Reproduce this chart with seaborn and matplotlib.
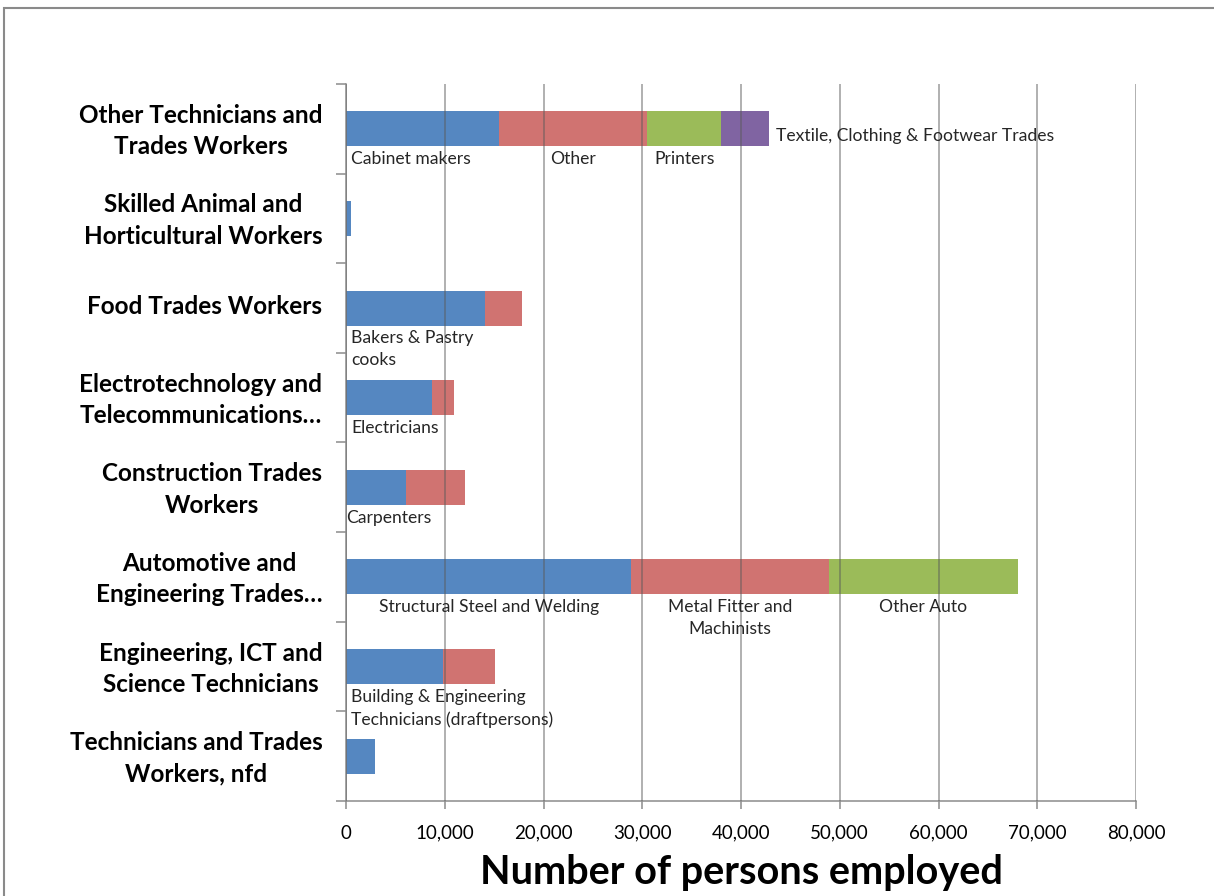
import matplotlib
matplotlib.use("Agg")
import matplotlib.pyplot as plt
from matplotlib.patches import Rectangle
from matplotlib.ticker import FuncFormatter, FixedLocator
import numpy as np
import pandas as pd
import seaborn as sns

# Occupation groups (top to bottom) and employment by sub-occupation segment
categories = [
    "Other Technicians and\nTrades Workers",
    "Skilled Animal and\nHorticultural Workers",
    "Food Trades Workers",
    "Electrotechnology and\nTelecommunications…",
    "Construction Trades\nWorkers",
    "Automotive and\nEngineering Trades…",
    "Engineering, ICT and\nScience Technicians",
    "Technicians and Trades\nWorkers, nfd",
]
seg1 = [15500, 500, 14100, 8700, 6100, 28900, 9800, 2900]
seg2 = [15000, 0, 3700, 2200, 6000, 20000, 5300, 0]
seg3 = [7500, 0, 0, 0, 0, 19100, 0, 0]
seg4 = [4800, 0, 0, 0, 0, 0, 0, 0]
seg_colors = ["#5587C1", "#D07371", "#9BBB59", "#8064A2"]

# Segment names: (category index, segment index, text, placement)
seg_labels = [
    (0, 0, "Cabinet makers", "left"),
    (0, 1, "Other", "center"),
    (0, 2, "Printers", "center"),
    (0, 3, "Textile, Clothing & Footwear Trades", "right"),
    (2, 0, "Bakers & Pastry\ncooks", "left"),
    (3, 0, "Electricians", "left"),
    (4, 0, "Carpenters", "start"),
    (5, 0, "Structural Steel and Welding", "center"),
    (5, 1, "Metal Fitter and\nMachinists", "center"),
    (5, 2, "Other Auto", "center"),
    (6, 0, "Building & Engineering\nTechnicians (draftpersons)", "left"),
]

x_ticks = [0, 10000, 20000, 30000, 40000, 50000, 60000, 70000, 80000]

segments = np.array([seg1, seg2, seg3, seg4], dtype=float)
cum = np.cumsum(segments, axis=0)
df = pd.DataFrame({"category": categories})
for i in range(4):
    df[f"cum{i}"] = cum[i]

sns.set_theme(style="white")
plt.rcParams["font.family"] = ["Lato", "DejaVu Sans"]

fig = plt.figure(figsize=(12.14, 8.96), dpi=100)
ax = fig.add_axes([346 / 1214, 1 - 801 / 896, 790 / 1214, 717 / 896])

# Stacked bars: draw cumulative totals from the outermost segment inward
for i in range(3, -1, -1):
    sns.barplot(data=df, x=f"cum{i}", y="category", orient="h", color=seg_colors[i],
                saturation=1, width=0.39, linewidth=0, ax=ax, zorder=1)

ax.set_xlim(0, 80000)
ax.set_ylim(7.5, -0.5)
ax.xaxis.set_major_locator(FixedLocator(x_ticks))
ax.xaxis.set_major_formatter(FuncFormatter(lambda v, p: f"{int(v):,}"))
ax.set_axisbelow(False)
ax.grid(axis="x", color="#5a5a5a", alpha=0.6, linewidth=1.1)
ax.grid(axis="y", visible=False)

for side in ["top", "right"]:
    ax.spines[side].set_visible(False)
for side in ["left", "bottom"]:
    ax.spines[side].set_color("#8c8c8c")
    ax.spines[side].set_linewidth(1.1)

# Category labels sit slightly above the bar centres
ax.set_yticks(np.arange(len(categories)) - 0.045)
ax.set_yticklabels(categories, fontsize=17.5, fontweight="bold", color="black",
                   multialignment="center", linespacing=1.45)
ax.yaxis.set_minor_locator(FixedLocator(np.arange(-0.5, 8.0, 1.0)))
ax.tick_params(axis="y", which="major", length=0, pad=17)
ax.tick_params(axis="y", which="minor", length=7.5, width=1.1, color="#8c8c8c", left=True)
ax.tick_params(axis="x", which="major", length=5.5, width=1.1, color="#8c8c8c",
               bottom=True, labelsize=13.5, pad=11.5, labelcolor="black")

ax.set_ylabel("")
ax.set_xlabel("Number of persons employed", fontsize=28.5, fontweight="bold",
              color="black", labelpad=9)

# Segment name annotations
for ci, si, text, place in seg_labels:
    start = cum[si - 1][ci] if si > 0 else 0.0
    end = cum[si][ci]
    if place == "right":
        ax.text(end + 700, ci + 0.08, text, ha="left", va="center", fontsize=12.6)
    elif place == "left":
        ax.text(start + 550, ci + 0.25, text, ha="left", va="top", fontsize=12.6,
                linespacing=1.45)
    elif place == "start":
        ax.text(start, ci + 0.25, text, ha="left", va="top", fontsize=12.6,
                linespacing=1.45)
    else:
        ax.text((start + end) / 2, ci + 0.25, text, ha="center", va="top",
                fontsize=12.6, linespacing=1.45)

# Chart frame
fig.patches.append(Rectangle((4 / 1214, -0.05), 1.2, 1 - 8 / 896 + 0.05,
                             transform=fig.transFigure, fill=False,
                             edgecolor="#8a8a8a", linewidth=1.5))

fig.savefig("out.png", dpi=100)
